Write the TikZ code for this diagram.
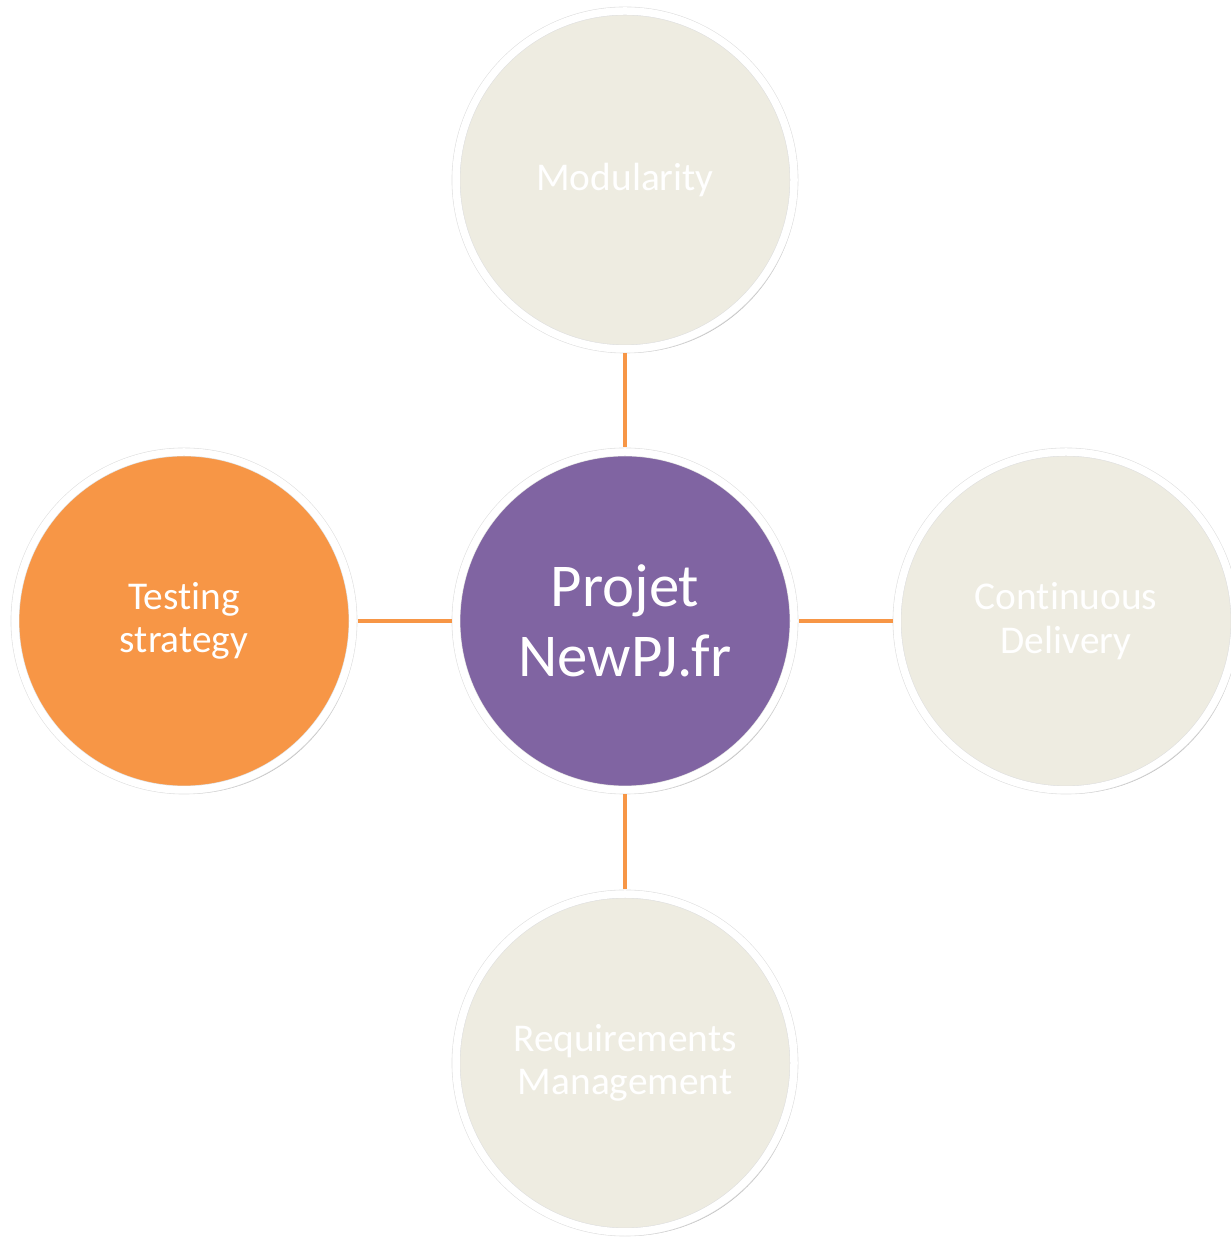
\documentclass[tikz,border=0pt]{standalone}
\usepackage{fontspec}
\setmainfont{Carlito}[Ligatures=NoCommon]
\usepackage{tikz}
\usetikzlibrary{positioning,shadows}
\definecolor{hubpurple}{HTML}{8064A2}
\definecolor{accorange}{HTML}{F79646}
\definecolor{paleside}{HTML}{EEECE1}

\begin{document}
\begin{tikzpicture}[
  topic/.style={circle, draw=black!12, line width=0.006cm, double=white,
                double distance=0.075cm, minimum size=3.38cm,
                inner sep=0pt, outer sep=0.045cm, align=center, text=white,
                font=\fontsize{11.2}{12.4}\selectfont, fill=paleside,
                drop shadow={shadow xshift=0.03cm, shadow yshift=-0.04cm,
                             opacity=0.35, fill=black!70}},
  hub/.style={topic, fill=hubpurple, font=\fontsize{17.3}{20}\selectfont},
  link/.style={draw=accorange, line width=0.045cm}
]
  \useasboundingbox (0,0) rectangle (12.30,12.39);

  % Central project
  \node[hub] (P) at (6.25,6.18) {Projet\\NewPJ.fr};

  % Top
  \node[topic] (Mod) at (6.25,10.59) {Modularity};
  \draw[link] (Mod) -- (P);

  % Left
  \node[topic, fill=accorange] (Test) at (1.84,6.18) {Testing\\strategy};
  \draw[link] (Test) -- (P);

  % Right
  \node[topic] (CD) at (10.66,6.18) {Continuous\\Delivery};
  \draw[link] (CD) -- (P);

  % Bottom
  \node[topic] (Req) at (6.25,1.76) {Requirements\\Management};
  \draw[link] (Req) -- (P);
\end{tikzpicture}
\end{document}
